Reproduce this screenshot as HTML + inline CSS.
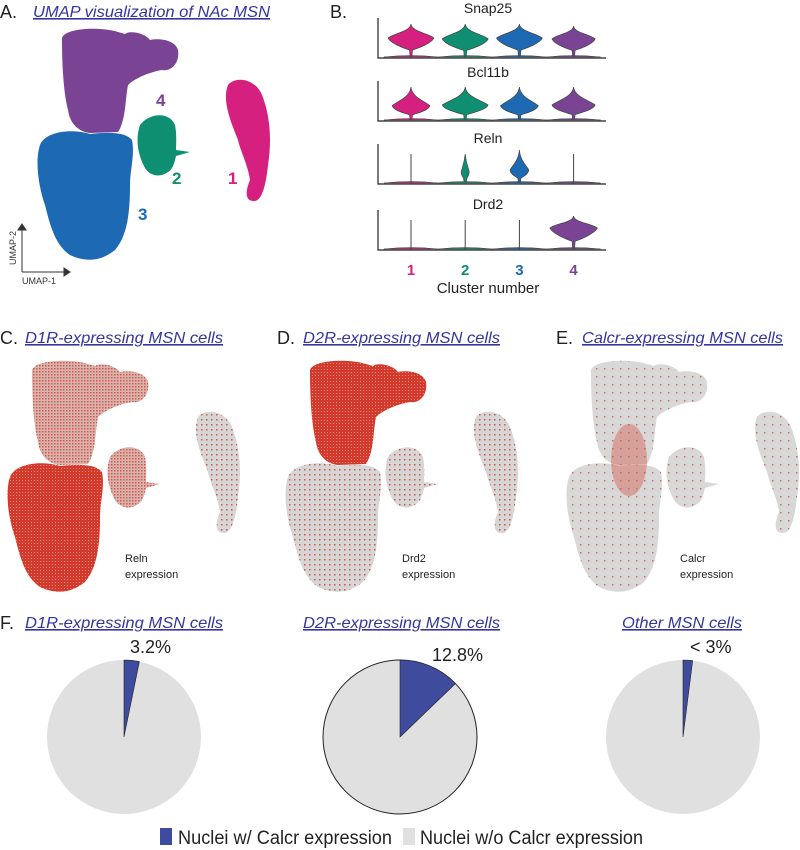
<!DOCTYPE html>
<html><head><meta charset="utf-8">
<style>
body{margin:0;background:#fff;width:800px;height:850px;overflow:hidden;}
svg{display:block;font-family:"Liberation Sans",sans-serif;}
.ttl{font-style:italic;fill:#3535a0;font-size:16px;text-decoration:underline;}
.lbl{font-size:18px;fill:#222;}
</style></head>
<body>
<svg id="fig" width="800" height="850" viewBox="0 0 800 850">
<defs>
 <pattern id="pC1" width="3" height="3" patternUnits="userSpaceOnUse"><rect width="3" height="3" fill="#d9b4ae"/><rect x="0" y="0" width="1.5" height="1.5" fill="#d0584a"/></pattern>
 <pattern id="pSparse" width="5" height="5" patternUnits="userSpaceOnUse"><rect width="5" height="5" fill="#d6d6d6"/><rect x="1" y="2" width="1.5" height="1.5" fill="#d0584a"/></pattern>
 <pattern id="pGrey" width="8" height="8" patternUnits="userSpaceOnUse"><rect width="8" height="8" fill="#d8d8d8"/><rect x="3" y="4" width="1.5" height="1.5" fill="#d46a5c"/></pattern>
 <pattern id="pDense" width="3" height="3" patternUnits="userSpaceOnUse"><rect width="3" height="3" fill="#d43a2c"/><rect x="1" y="1" width="1" height="1" fill="#e08a80"/></pattern>
</defs>

<!-- Panel A -->
<text x="0" y="18" class="lbl">A.</text>
<text x="33" y="17" class="ttl" textLength="237" lengthAdjust="spacingAndGlyphs">UMAP visualization of NAc MSN</text>
<g id="umapA"></g>
<g font-weight="bold" font-size="17">
 <text x="156" y="106" fill="#7b4393">4</text>
 <text x="172" y="184" fill="#0f8f72">2</text>
 <text x="228" y="184" fill="#d6207f">1</text>
 <text x="138" y="220" fill="#1e69b4">3</text>
</g>
<g stroke="#333" stroke-width="1" fill="#333">
 <line x1="22" y1="272" x2="22" y2="228"/><polygon points="18,230 26,230 22,224"/>
 <line x1="22" y1="272" x2="66" y2="272"/><polygon points="64,268 64,276 70,272"/>
</g>
<text x="0" y="0" font-size="9" fill="#333" transform="translate(16,265) rotate(-90)">UMAP-2</text>
<text x="22" y="284" font-size="9" fill="#333">UMAP-1</text>

<!-- Panel B -->
<text x="330" y="18" class="lbl">B.</text>
<g id="violins"></g>
<text x="488" y="293" text-anchor="middle" font-size="15" fill="#222">Cluster number</text>

<!-- Panels C D E -->
<text x="0" y="344" class="lbl">C.</text>
<text x="25" y="343" class="ttl" textLength="198" lengthAdjust="spacingAndGlyphs">D1R-expressing MSN cells</text>
<text x="277" y="344" class="lbl">D.</text>
<text x="303" y="343" class="ttl" textLength="197" lengthAdjust="spacingAndGlyphs">D2R-expressing MSN cells</text>
<text x="556" y="344" class="lbl">E.</text>
<text x="582" y="343" class="ttl" textLength="201" lengthAdjust="spacingAndGlyphs">Calcr-expressing MSN cells</text>
<g id="umapC"></g>
<g id="umapD"></g>
<g id="umapE"></g>
<g font-size="11" fill="#222">
 <text x="125" y="562"><tspan x="125">Reln</tspan><tspan x="125" dy="16">expression</tspan></text>
 <text x="402" y="562"><tspan x="402">Drd2</tspan><tspan x="402" dy="16">expression</tspan></text>
 <text x="680" y="562"><tspan x="680">Calcr</tspan><tspan x="680" dy="16">expression</tspan></text>
</g>

<!-- Panel F -->
<text x="0" y="629" class="lbl">F.</text>
<text x="25" y="628" class="ttl" textLength="198" lengthAdjust="spacingAndGlyphs">D1R-expressing MSN cells</text>
<text x="303" y="628" class="ttl" textLength="197" lengthAdjust="spacingAndGlyphs">D2R-expressing MSN cells</text>
<text x="622" y="628" class="ttl" textLength="120" lengthAdjust="spacingAndGlyphs">Other MSN cells</text>
<g id="pies"></g>
<g>
 <rect x="160" y="828" width="12" height="17" fill="#3f4b9c"/>
 <text x="178" y="844" font-size="19" fill="#222" textLength="214" lengthAdjust="spacingAndGlyphs">Nuclei w/ Calcr expression</text>
 <rect x="403" y="828" width="12" height="17" fill="#e0e0e0"/>
 <text x="420" y="844" font-size="19" fill="#222" textLength="223" lengthAdjust="spacingAndGlyphs">Nuclei w/o Calcr expression</text>
</g>
</svg>
<script>
// ---- data ----
const clusters = ["1","2","3","4"];
const clusterColors = ["#d6207f","#0f8f72","#1e69b4","#7b4393"];
const genes = ["Snap25","Bcl11b","Reln","Drd2"];
// violin top (fraction of axis height), widest point, half width (fraction of slot)
const violinTop = [[0.85,0.85,0.85,0.8],[0.85,0.85,0.85,0.85],[0.75,0.75,0.85,0.75],[0.75,0.75,0.75,0.85]];
const violinMid = [[0.5,0.48,0.5,0.48],[0.38,0.4,0.38,0.4],[0.0,0.3,0.35,0.0],[0.0,0.0,0.0,0.55]];
const violinHalf = [[0.85,0.85,0.85,0.8],[0.7,0.85,0.7,0.8],[0.0,0.15,0.35,0.0],[0.0,0.0,0.0,0.88]];
const pieTitles = ["D1R-expressing MSN cells","D2R-expressing MSN cells","Other MSN cells"];
const pieValues = [3.2, 12.8, 2.0];
const pieLabels = ["3.2%","12.8%","< 3%"];

const NS="http://www.w3.org/2000/svg";
function mk(tag,attrs,parent){const e=document.createElementNS(NS,tag);for(const k in attrs)e.setAttribute(k,attrs[k]);parent.appendChild(e);return e;}

// ---- UMAP shapes (panel A coordinates) ----
const shapePurple="M62,40 C60,28 100,26 118,32 L125,34 C130,30 145,33 150,40 C160,38 175,40 178,50 C180,62 172,72 162,70 C150,72 135,78 128,85 C125,100 126,120 118,132 L90,133 C80,132 70,125 68,110 C63,90 62,60 62,40 Z";
const shapeBlue="M40,145 C45,132 70,128 90,134 C110,132 125,132 132,140 C135,155 130,170 130,185 C130,210 128,235 115,250 C100,262 85,262 70,255 C55,245 50,225 45,205 C38,185 35,160 40,145 Z";
const shapeGreen="M140,125 C150,112 170,112 175,125 C177,135 176,145 176,150 L190,152 L176,156 C174,165 172,170 168,172 C160,178 150,176 145,168 C138,155 135,140 140,125 Z";
const shapePink="M228,85 C235,76 255,78 262,95 C270,115 272,140 268,165 C266,185 262,200 255,201 C245,202 245,192 250,180 C248,165 240,150 238,140 C230,120 222,100 228,85 Z";
const shapes=[shapePink,shapeGreen,shapeBlue,shapePurple];
function drawUmap(id,dx,dy,fills){
  const g=document.getElementById(id);
  shapes.forEach((d,i)=>{
    const p=mk('path',{d:d,fill:fills[i],transform:`translate(${dx},${dy})`},g);
    
    
  });
}
drawUmap('umapA',0,0,clusterColors);
drawUmap('umapC',-30,332,["url(#pSparse)","url(#pC1)","url(#pDense)","url(#pC1)"]);
drawUmap('umapD',248,332,["url(#pSparse)","url(#pSparse)","url(#pSparse)","url(#pDense)"]);
drawUmap('umapE',529,332,["url(#pGrey)","url(#pGrey)","url(#pGrey)","url(#pGrey)"]);
const eRed=mk('ellipse',{cx:629,cy:460,rx:18,ry:36,fill:"#d2604f",opacity:0.45},document.getElementById('umapE'));



// ---- violins ----
const vg=document.getElementById('violins');
const axLeft=378, axRight=606;
const rowBottom=[58,121,184,250], rowH=40, labelY=[13,77,143,209];
const slotX=i=>411+i*54.2, slotHalf=27;
genes.forEach((gname,r)=>{
  const t=mk('text',{x:488,y:labelY[r],'text-anchor':'middle','font-size':14,fill:'#222'},vg);
  t.textContent=gname;
  
  
  const b=rowBottom[r];
  const ax=mk('path',{d:`M${axLeft},${b-rowH} V${b} H${axRight}`,stroke:'#222','stroke-width':1.2,fill:'none'},vg);
  
  
  const yv=f=>b-f*rowH;
  clusters.forEach((c,i)=>{
    const cx=slotX(i);
    const base=mk('path',{d:`M${cx-slotHalf},${b-1} Q${cx},${b-4} ${cx+slotHalf},${b-1} Z`,fill:clusterColors[i],stroke:'#444','stroke-width':0.5},vg);
    
    
    const hw=violinHalf[r][i]*slotHalf, top=yv(violinTop[r][i]), mid=yv(violinMid[r][i]);
    if(hw<=0){
      const l=mk('line',{x1:cx,y1:b,x2:cx,y2:top,stroke:'#444','stroke-width':1},vg);
      
      
    } else {
      const low=Math.min(b-3,mid+(b-mid)*0.6);
      const up=mid-(mid-top)*0.45;
      const d=`M${cx},${top} C${cx+1},${up} ${cx+hw*0.7},${mid-5} ${cx+hw},${mid} C${cx+hw*0.9},${mid+5} ${cx+hw*0.35},${low-2} ${cx+1.5},${low} L${cx+1},${b-2} L${cx-1},${b-2} L${cx-1.5},${low} C${cx-hw*0.35},${low-2} ${cx-hw*0.9},${mid+5} ${cx-hw},${mid} C${cx-hw*0.7},${mid-5} ${cx-1},${up} ${cx},${top} Z`;
      const v=mk('path',{d:d,fill:clusterColors[i],stroke:'#444','stroke-width':0.7},vg);
      
      
    }
  });
});
clusters.forEach((c,i)=>{
  const t=mk('text',{x:slotX(i),y:275,'text-anchor':'middle','font-size':15,'font-weight':'bold',fill:clusterColors[i]},vg);
  t.textContent=c;
  
  
});

// ---- pies ----
const pg=document.getElementById('pies');
const pieCx=[124,400,683], pieCy=737, pieR=77;
const labelPos=[[130,653],[432,661],[690,653]];
pieValues.forEach((v,i)=>{
  const cx=pieCx[i];
  const bg=mk('circle',{cx:cx,cy:pieCy,r:pieR,fill:'#e0e0e0',stroke:i===1?'#222':'none','stroke-width':1},pg);
  
  
  const a=v/100*2*Math.PI;
  const x2=cx+pieR*Math.sin(a), y2=pieCy-pieR*Math.cos(a);
  const s=mk('path',{d:`M${cx},${pieCy} L${cx},${pieCy-pieR} A${pieR},${pieR} 0 0 1 ${x2},${y2} Z`,fill:'#3f4b9c',stroke:'#222','stroke-width':0.6},pg);
  
  
  const t=mk('text',{x:labelPos[i][0],y:labelPos[i][1],'font-size':18,fill:'#222'},pg);
  t.textContent=pieLabels[i];
  
  
});
</script>
</body></html>
